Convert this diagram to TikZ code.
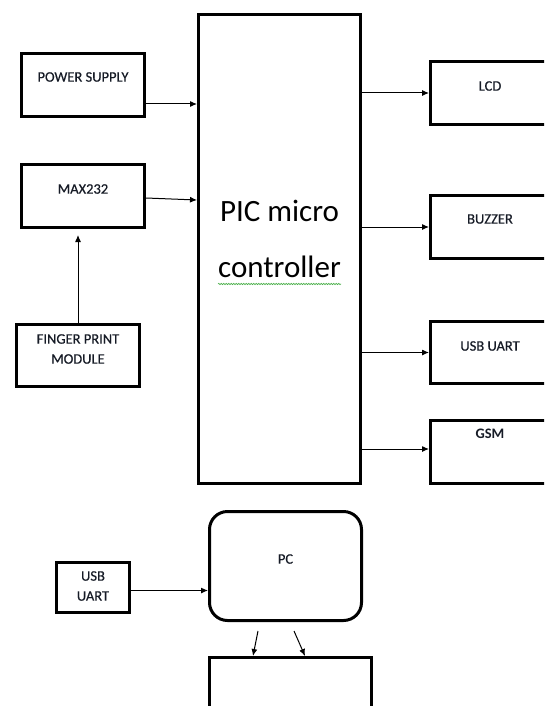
\documentclass[tikz,border=0pt]{standalone}
\usepackage{fontspec}
\setmainfont{Carlito}
\newfontfamily\tagfont[FakeBold=0.5]{Carlito}
\usetikzlibrary{positioning,arrows.meta,decorations.pathmorphing}

\definecolor{inkblue}{HTML}{161B26}
\definecolor{squiggle}{HTML}{4CB04C}

\tikzset{
  block/.style={draw, line width=3pt, minimum width=123pt, minimum height=63pt, inner sep=0pt},
  tag/.style={text=inkblue, font=\tagfont\fontsize{14.5}{20}\selectfont, align=center, inner sep=0pt},
  big/.style={font=\fontsize{31}{36}\selectfont, inner sep=0pt},
  wire/.style={line width=1pt, -{Latex[length=7pt,width=6pt]}},
}

\begin{document}
\begin{tikzpicture}[x=1pt, y=-1pt]
  \useasboundingbox (0,0) rectangle (544,706);
  \clip (0,0) rectangle (544,706);

  % controller
  \node[draw, line width=3pt, minimum width=162pt, minimum height=469pt] (pic) at (279.5,249) {};
  \node[big, anchor=base] (picA) at ([yshift=28pt]pic.center) {PIC micro};
  \node[big, anchor=base] (picB) at ([yshift=-28pt]pic.center) {controller};
  \draw[squiggle, line width=0.6pt, decorate, decoration={snake, amplitude=0.7pt, segment length=2.5pt}]
    ([yshift=-7pt]picB.base west) -- ([yshift=-7pt]picB.base east);

  % inputs
  \node[block] (power) at (83,85) {};
  \node[tag] at ([yshift=8pt]power.center) {POWER SUPPLY};
  \node[block] (max) at (83,196) {};
  \node[tag] at ([yshift=7pt]max.center) {MAX232};
  \node[block, minimum height=62pt] (finger) at (78,355.5) {};
  \node[tag] at ([yshift=6.5pt]finger.center) {FINGER PRINT\\MODULE};

  % outputs
  \node[block, minimum width=119pt] (lcd) at (490,93) {};
  \node[tag] at ([yshift=7pt]lcd.center) {LCD};
  \node[block, minimum width=119pt] (buzzer) at (490,227) {};
  \node[tag] at ([yshift=8pt]buzzer.center) {BUZZER};
  \node[block, minimum width=119pt, minimum height=62pt] (uart) at (490,352.5) {};
  \node[tag] at ([yshift=6.5pt]uart.center) {USB UART};
  \node[block, minimum width=119pt] (gsm) at (490,452) {};
  \node[tag, font=\fontsize{14.5}{20}\selectfont\bfseries] at ([yshift=18pt]gsm.center) {GSM};

  % pc side
  \node[draw, line width=3pt, rounded corners=18pt, minimum width=152pt, minimum height=109pt] (pc) at (285.5,566) {};
  \node[tag] at ([yshift=7pt]pc.center) {PC};
  \node[block, minimum width=73pt, minimum height=50pt] (usb) at (93,587.5) {};
  \node[tag] at ([yshift=1.5pt]usb.center) {USB\\UART};
  \node[draw, line width=3pt, minimum width=162pt, minimum height=120pt, anchor=north] (out) at (290.5,656) {};

  % links
  \draw[wire] ([yshift=-19pt]power.east) -- ([yshift=-19pt]power.east -| pic.west);
  \draw[wire] ([yshift=-2pt]max.east) -- ([yshift=-4pt]max.east -| pic.west);
  \draw[wire, shorten >=6pt] (finger.north) -- (finger.north |- max.south);
  \draw[wire] (pic.east |- lcd.west) -- (lcd.west);
  \draw[wire] (pic.east |- buzzer.west) -- (buzzer.west);
  \draw[wire] (pic.east |- uart.west) -- (uart.west);
  \draw[wire] ([yshift=3pt]pic.east |- gsm.west) -- ([yshift=3pt]gsm.west);
  \draw[wire] ([yshift=-3pt]usb.east) -- ([yshift=-3pt]usb.east -| pc.west);
  \draw[wire] ([xshift=-27.5pt, yshift=-9pt]pc.south) -- ([xshift=-37.5pt]out.north);
  \draw[wire] ([xshift=8.5pt, yshift=-9pt]pc.south) -- ([xshift=14.5pt]out.north);
\end{tikzpicture}
\end{document}
